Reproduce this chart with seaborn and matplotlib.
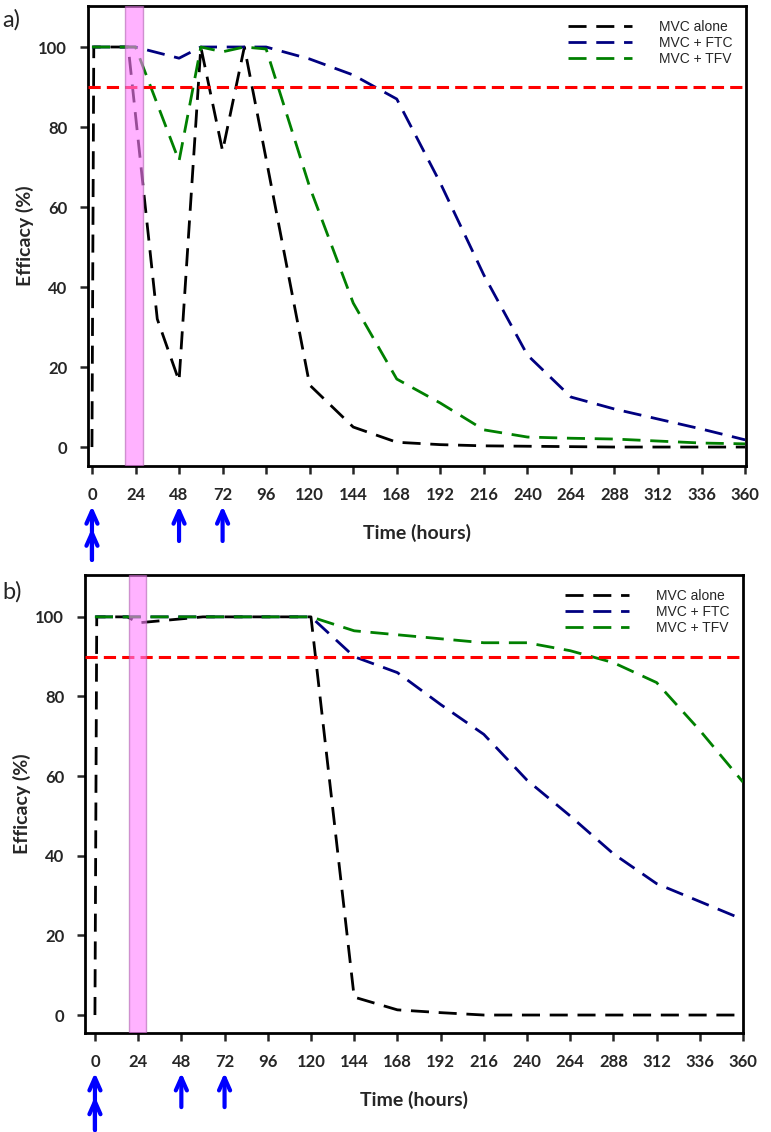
import matplotlib
matplotlib.use("Agg")
import matplotlib.pyplot as plt
import numpy as np
import pandas as pd
import seaborn as sns

# ---- panel a) data (hours, efficacy %) ----
hours_a_mvc = [0, 1, 20, 36, 48, 60, 72, 84, 96, 120, 144, 168, 192, 216, 240, 264, 288, 312, 336, 360]
eff_a_mvc = [0, 100, 100, 32, 16.5, 100, 74, 100, 72, 15.5, 5, 1.2, 0.6, 0.3, 0.2, 0.1, 0, 0, 0, 0]
hours_a_ftc = [0, 24, 48, 60, 72, 84, 96, 120, 144, 168, 192, 216, 240, 264, 288, 312, 336, 360]
eff_a_ftc = [100, 100, 97.2, 100, 100, 100, 100, 97, 93, 87, 66, 43, 23, 12.5, 9.5, 7, 4.5, 1.8]
hours_a_tfv = [0, 24, 48, 60, 72, 84, 96, 120, 144, 168, 192, 216, 240, 264, 288, 312, 336, 360]
eff_a_tfv = [100, 100, 71.5, 100, 98.8, 100, 99.5, 65, 36, 17, 11, 4.3, 2.5, 2.2, 2, 1.5, 1, 0.8]

# ---- panel b) data ----
hours_b_mvc = [0, 1, 18, 24, 36, 48, 60, 72, 84, 96, 108, 120, 144, 168, 192, 216, 240, 264, 288, 312, 336, 360]
eff_b_mvc = [0, 100, 100, 98.5, 99, 99.5, 100, 100, 100, 100, 100, 100, 4.5, 1.3, 0.6, 0, 0, 0, 0, 0, 0, 0]
hours_b_ftc = [0, 24, 48, 72, 96, 120, 144, 168, 192, 216, 240, 264, 288, 312, 336, 360]
eff_b_ftc = [100, 100, 100, 100, 100, 100, 90, 86, 78, 70.5, 59, 50, 40.5, 33, 28.5, 24]
hours_b_tfv = [0, 24, 48, 72, 96, 120, 144, 168, 192, 216, 240, 264, 288, 312, 336, 360]
eff_b_tfv = [100, 100, 100, 100, 100, 100, 96.5, 95.5, 94.5, 93.5, 93.5, 91.5, 88.5, 83.5, 71.5, 58.5]

threshold = 90
exposure_a = (18, 28)
exposure_b = (19, 28.5)
dose_times = [0, 48, 72]
dose_counts = [2, 1, 1]

series_names = ["MVC alone", "MVC + FTC", "MVC + TFV"]
series_colors = ["black", "#000080", "#008000"]

sns.set_style("white")
plt.rcParams['font.family'] = ['Lato', 'DejaVu Sans']

fig = plt.figure(figsize=(7.71, 11.32), dpi=100)
ax_a = fig.add_axes([0.1141, 0.5883, 0.8535, 0.4064])
ax_b = fig.add_axes([0.1103, 0.0875, 0.8534, 0.4045])


def draw_panel(ax, data, exposure, xlim, ylim, arrow_y):
    for (h, e), name, col in zip(data, series_names, series_colors):
        sns.lineplot(x=h, y=e, color=col, ax=ax, label=name, sort=False,
                     linestyle=(0, (6.5, 3.5)), linewidth=2.0, zorder=3)
    ax.axhline(threshold, color="#ff0000", linestyle=(0, (4, 2)), linewidth=2.2, zorder=3)
    ax.axvspan(exposure[0], exposure[1], facecolor="#ff80ff", edgecolor="#b060b0",
               alpha=0.6, linewidth=1, zorder=4)

    ax.set_xlim(*xlim)
    ax.set_ylim(*ylim)
    ax.set_xticks(np.arange(0, 361, 24))
    ax.set_yticks(np.arange(0, 101, 20))
    for s in ax.spines.values():
        s.set_linewidth(2)
        s.set_color("black")
    ax.tick_params(direction="out", length=6, width=1.8, labelsize=12, pad=9,
                   bottom=True, left=True)
    for lab in ax.get_xticklabels() + ax.get_yticklabels():
        lab.set_fontweight("bold")
    ax.set_xlabel("Time (hours)", fontsize=14, fontweight="bold", labelpad=15)
    ax.set_ylabel("Efficacy (%)", fontsize=14, fontweight="bold", labelpad=3)

    ax.legend(loc="upper right", frameon=False, handlelength=4.6,
              handletextpad=1.9, labelspacing=0.15, borderaxespad=0.6,
              prop={'family': 'Liberation Sans', 'size': 10})

    # dosing arrows below the axis
    trans = ax.get_xaxis_transform()
    tip, step, tail, tail2 = arrow_y
    for t, n in zip(dose_times, dose_counts):
        end = tail if n == 1 else tail2
        for k in range(n):
            ax.annotate("", xy=(t, tip - k * step), xytext=(t, end),
                        xycoords=trans, textcoords=trans, annotation_clip=False,
                        arrowprops=dict(arrowstyle="->,head_length=0.9,head_width=0.4",
                                        color="#0000ff", lw=3, shrinkA=0, shrinkB=0))


data_a = [(hours_a_mvc, eff_a_mvc), (hours_a_ftc, eff_a_ftc), (hours_a_tfv, eff_a_tfv)]
data_b = [(hours_b_mvc, eff_b_mvc), (hours_b_ftc, eff_b_ftc), (hours_b_tfv, eff_b_tfv)]

draw_panel(ax_a, data_a, exposure_a, (-2.2, 360.5), (-4.75, 110.25), (-0.087, 0.048, -0.163, -0.204))
draw_panel(ax_b, data_b, exposure_b, (-5.5, 360), (-4.5, 110.5), (-0.087, 0.052, -0.162, -0.212))

fig.text(0.003, 0.992, "a)", fontsize=17, va="top", ha="left")
fig.text(0.003, 0.487, "b)", fontsize=17, va="top", ha="left")

fig.savefig("out.png", dpi=100)
